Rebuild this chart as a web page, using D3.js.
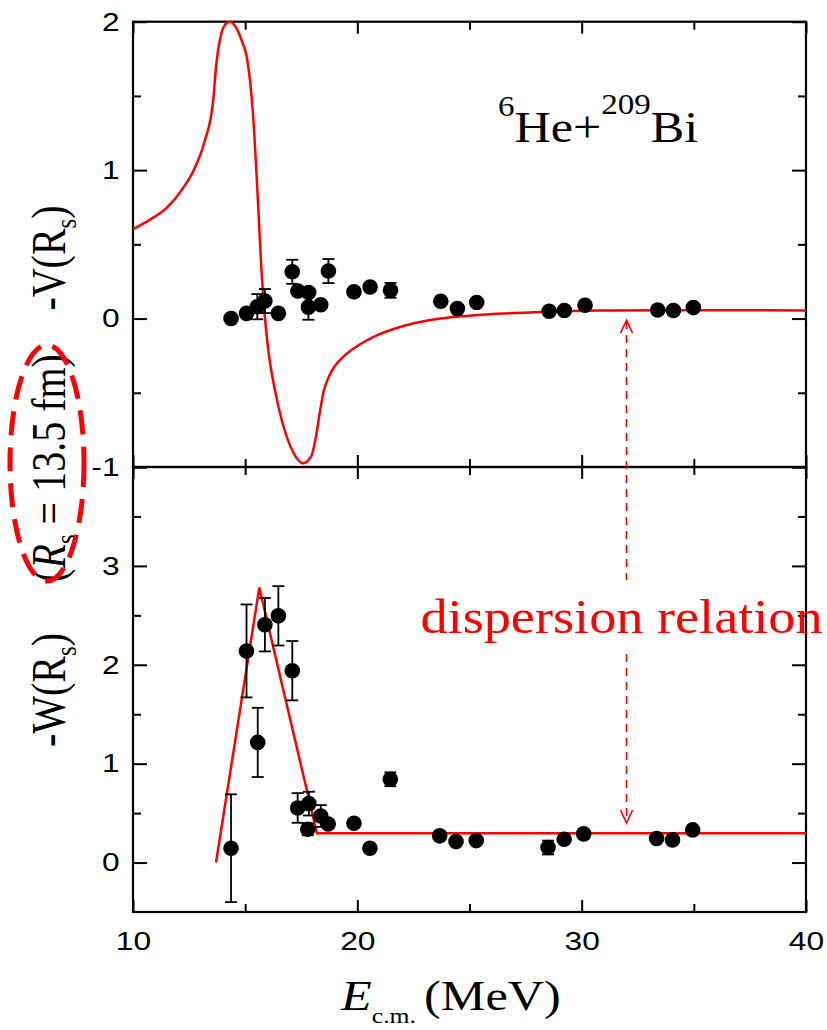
<!DOCTYPE html>
<html>
<head>
<meta charset="utf-8">
<script src="https://cdn.jsdelivr.net/npm/d3@7"></script>
<style>
    body { margin: 0; background: #fff; }
    svg { display: block; }
</style>
</head>
<body>
<svg id="chart" width="827" height="1030"></svg>
<script>
// Experimental points, top panel: -V(Rs)
const vEnergy = [14.37, 15.06, 15.54, 15.88, 16.48, 17.10, 17.35, 17.83, 17.82, 18.37, 18.71, 19.85, 20.57, 21.48, 23.72, 24.46, 25.32, 28.55, 29.23, 30.15, 33.39, 34.09, 34.98];
const vValue  = [0.00, 0.035, 0.08, 0.118, 0.035, 0.315, 0.186, 0.176, 0.077, 0.093, 0.32, 0.18, 0.213, 0.19, 0.117, 0.067, 0.108, 0.049, 0.054, 0.09, 0.058, 0.054, 0.074];
const vError  = [0, 0, 0.085, 0.081, 0.02, 0.081, 0, 0, 0.085, 0.02, 0.081, 0, 0, 0.05, 0, 0, 0, 0, 0, 0, 0, 0, 0];

// Experimental points, bottom panel: -W(Rs)
const wEnergy = [14.37, 15.06, 15.56, 15.88, 16.48, 17.10, 17.34, 17.84, 17.79, 18.37, 18.70, 19.85, 20.56, 21.47, 23.67, 24.40, 25.30, 28.50, 29.22, 30.09, 33.34, 34.05, 34.95];
const wValue  = [0.145, 2.14, 1.215, 2.405, 2.495, 1.94, 0.552, 0.596, 0.337, 0.471, 0.39, 0.398, 0.145, 0.842, 0.27, 0.212, 0.222, 0.152, 0.236, 0.29, 0.243, 0.229, 0.33];
const wError  = [0.545, 0.47, 0.35, 0.27, 0.30, 0.30, 0.15, 0.12, 0.06, 0.11, 0, 0, 0, 0.07, 0, 0, 0, 0.07, 0, 0, 0, 0, 0];

// Dispersion relation curve for V
const vCurveE = [10, 10.74, 11.49, 12.23, 12.75, 13.19, 13.57, 13.71, 13.89, 14.16, 14.34, 14.61, 14.90, 15.05, 15.35, 15.57, 15.72, 15.87, 16.02, 16.31, 16.69, 17.13, 17.58, 17.95, 18.15, 18.32, 18.50, 18.75, 19.10, 19.50, 20.00, 20.70, 21.90, 23.39, 24.88, 27.85, 30.82, 36.60, 40];
const vCurveV = [0.602, 0.665, 0.744, 0.879, 1.013, 1.193, 1.463, 1.71, 1.89, 1.99, 2.0, 1.957, 1.85, 1.778, 1.373, 0.789, 0.339, 0.025, -0.2, -0.47, -0.717, -0.897, -0.975, -0.925, -0.80, -0.64, -0.49, -0.385, -0.30, -0.24, -0.185, -0.125, -0.057, -0.007, 0.018, 0.042, 0.054, 0.056, 0.055];

// Linear segments for W
const wLineE = [13.7, 15.63, 18.2, 40];
const wLineW = [0, 2.78, 0.296, 0.296];

// Tick labels
const xTicks = [10, 20, 30, 40];
const xMinor = [15, 25, 35];
const vTicks = [-1, 0, 1, 2];
const vMinor = [-0.5, 0.5, 1.5];
const wTicks = [0, 1, 2, 3, 4];
const wLabels = [0, 1, 2, 3];
const wMinor = [0.5, 1.5, 2.5, 3.5];

const arrowE = 32;

const svg = d3.select('#chart');
const serif = '"Liberation Serif", "Times New Roman", serif';
const sans = '"Liberation Sans", Arial, sans-serif';
const red = '#ff0000';

const x = d3.scaleLinear().domain([10, 40]).range([133, 806]);
const yTop = d3.scaleLinear().domain([-1, 2]).range([467, 21.7]);
const yBot = d3.scaleLinear().domain([-0.5, 4]).range([912, 467]);

const left = 133, right = 806;

// Axes with inward ticks
function drawAxes(yScale, majors, minors, labels, top, bottom, showX) {
    const g = svg.append('g');
    const fmt = d => labels.includes(d) ? String(d) : '';

    g.append('g').attr('transform', `translate(${left},0)`)
        .call(d3.axisLeft(yScale).tickValues(majors).tickSize(-14).tickPadding(11).tickFormat(fmt));
    g.append('g').attr('transform', `translate(${left},0)`)
        .call(d3.axisLeft(yScale).tickValues(minors).tickSize(-8).tickFormat(''));
    g.append('g').attr('transform', `translate(${right},0)`)
        .call(d3.axisRight(yScale).tickValues(majors).tickSize(-14).tickFormat(''));
    g.append('g').attr('transform', `translate(${right},0)`)
        .call(d3.axisRight(yScale).tickValues(minors).tickSize(-8).tickFormat(''));

    g.append('g').attr('transform', `translate(0,${top})`)
        .call(d3.axisTop(x).tickValues(xTicks).tickSize(-12).tickFormat(''));
    g.append('g').attr('transform', `translate(0,${top})`)
        .call(d3.axisTop(x).tickValues(xMinor).tickSize(-8).tickFormat(''));
    g.append('g').attr('transform', `translate(0,${bottom})`)
        .call(d3.axisBottom(x).tickValues(xTicks).tickSize(-12).tickPadding(20).tickFormat(showX ? d => d : ''));
    g.append('g').attr('transform', `translate(0,${bottom})`)
        .call(d3.axisBottom(x).tickValues(xMinor).tickSize(-8).tickFormat(''));

    g.selectAll('.domain').remove();
    g.selectAll('.tick line').attr('stroke', '#000').attr('stroke-width', 2);
    g.selectAll('.tick text')
        .attr('font-family', sans)
        .attr('font-size', 26)
        .attr('fill', '#000')
        .attr('transform', 'scale(1.22,1)');

    g.append('rect')
        .attr('x', left).attr('y', top)
        .attr('width', right - left).attr('height', bottom - top)
        .attr('fill', 'none').attr('stroke', '#000').attr('stroke-width', 2.2);
}

drawAxes(yTop, vTicks, vMinor, vTicks, yTop(2), yTop(-1), false);
drawAxes(yBot, wTicks, wMinor, wLabels, yBot(4), yBot(-0.5), true);

// Red curves
const vLine = d3.line().x(d => x(d[0])).y(d => yTop(d[1])).curve(d3.curveMonotoneX);
svg.append('path')
    .attr('d', vLine(d3.zip(vCurveE, vCurveV)))
    .attr('fill', 'none').attr('stroke', red).attr('stroke-width', 2.5);

const wLine = d3.line().x(d => x(d[0])).y(d => yBot(d[1]));
svg.append('path')
    .attr('d', wLine(d3.zip(wLineE, wLineW)))
    .attr('fill', 'none').attr('stroke', red).attr('stroke-width', 2.5);

// Points with error bars
function drawPoints(es, vs, errs, yScale) {
    const data = es.map((e, i) => ({ e, v: vs[i], err: errs[i] }));
    const g = svg.append('g');
    const withErr = data.filter(d => d.err > 0);
    g.selectAll('line.bar').data(withErr).enter().append('line')
        .attr('x1', d => x(d.e)).attr('x2', d => x(d.e))
        .attr('y1', d => yScale(d.v - d.err)).attr('y2', d => yScale(d.v + d.err))
        .attr('stroke', '#000').attr('stroke-width', 1.8);
    [-1, 1].forEach(s => {
        g.selectAll(null).data(withErr).enter().append('line')
            .attr('x1', d => x(d.e) - 6).attr('x2', d => x(d.e) + 6)
            .attr('y1', d => yScale(d.v + s * d.err)).attr('y2', d => yScale(d.v + s * d.err))
            .attr('stroke', '#000').attr('stroke-width', 1.8);
    });
    g.selectAll('circle').data(data).enter().append('circle')
        .attr('cx', d => x(d.e)).attr('cy', d => yScale(d.v))
        .attr('r', 7.8).attr('fill', '#000');
}

drawPoints(vEnergy, vValue, vError, yTop);
drawPoints(wEnergy, wValue, wError, yBot);

// Dispersion relation arrow
const ax = x(arrowE);
const tipTop = yTop(-0.01);
const tipBot = yBot(0.4);
function seg(y1, y2) {
    svg.append('line')
        .attr('x1', ax).attr('x2', ax).attr('y1', y1).attr('y2', y2)
        .attr('stroke', red).attr('stroke-width', 1.6).attr('stroke-dasharray', '8 6');
}
seg(tipTop + 1, 580);
seg(654, tipBot - 1);
svg.append('polyline')
    .attr('points', `${ax - 6},${tipTop + 13} ${ax},${tipTop} ${ax + 6},${tipTop + 13}`)
    .attr('fill', 'none').attr('stroke', red).attr('stroke-width', 1.6);
svg.append('polyline')
    .attr('points', `${ax - 6},${tipBot - 13} ${ax},${tipBot} ${ax + 6},${tipBot - 13}`)
    .attr('fill', 'none').attr('stroke', red).attr('stroke-width', 1.6);

svg.append('text')
    .attr('transform', `translate(${ax - 5},633) scale(1.13,1)`)
    .attr('text-anchor', 'middle')
    .attr('font-family', serif).attr('font-size', 48).attr('fill', red)
    .text('dispersion relation');

// Reaction label
const title = svg.append('text')
    .attr('transform', 'translate(498,142) scale(1.14,1)')
    .attr('font-family', serif).attr('font-size', 44).attr('fill', '#000');
title.append('tspan').attr('font-size', 29).attr('dy', -26).text('6');
title.append('tspan').attr('dy', 26).text('He+');
title.append('tspan').attr('font-size', 29).attr('dy', -28).text('209');
title.append('tspan').attr('dy', 28).text('Bi');

// X axis title
const xt = svg.append('text')
    .attr('transform', 'translate(341,1010) scale(1.17,1)')
    .attr('font-family', serif).attr('font-size', 43).attr('fill', '#000');
xt.append('tspan').attr('font-style', 'italic').text('E');
xt.append('tspan').attr('font-size', 22).attr('dy', 13).text('c.m.');
svg.append('text')
    .attr('transform', 'translate(424,1010) scale(1.17,1)')
    .attr('font-family', serif).attr('font-size', 43).attr('fill', '#000')
    .text('(MeV)');

// Y axis titles (rotated)
function yLabel(cy, parts) {
    const t = svg.append('text')
        .attr('transform', `translate(65,${cy}) rotate(-90) scale(1,1.2)`)
        .attr('text-anchor', 'middle')
        .attr('font-family', serif).attr('font-size', 40).attr('fill', '#000');
    parts.forEach(p => {
        const s = t.append('tspan').text(p.t);
        if (p.sub) s.attr('font-size', 25).attr('dy', 9);
        if (p.back) s.attr('dy', -9);
        if (p.it) s.attr('font-style', 'italic');
    });
}
yLabel(258, [{ t: '-V(R' }, { t: 's', sub: true }, { t: ')', back: true }]);
yLabel(468, [{ t: '(' }, { t: 'R', it: true }, { t: 's', sub: true }, { t: ' = 13.5 fm)', back: true }]);
yLabel(690, [{ t: '-W(R' }, { t: 's', sub: true }, { t: ')', back: true }]);

// Dashed highlight ellipse
svg.append('ellipse')
    .attr('cx', 47).attr('cy', 463).attr('rx', 37).attr('ry', 118)
    .attr('fill', 'none').attr('stroke', red).attr('stroke-width', 5)
    .attr('stroke-dasharray', '24 12');
</script>
</body>
</html>
